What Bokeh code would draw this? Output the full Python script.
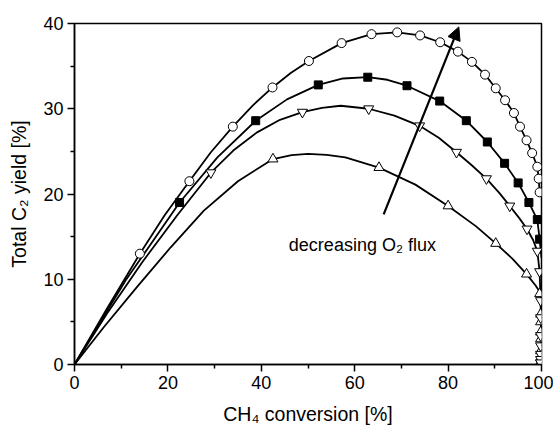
from bokeh.plotting import figure
from bokeh.models import Arrow, NormalHead, FixedTicker, Range1d
from bokeh.core.properties import value
from bokeh.embed import file_html
from bokeh.resources import INLINE

# ---- data ----
# marker points
circ_x = [14.0, 24.6, 33.9, 42.4, 50.2, 57.2, 63.6, 69.1, 74.0, 78.3, 82.1, 85.1, 87.9, 90.2, 92.2, 94.1, 95.4, 96.8, 98.0, 99.1, 99.4, 99.6]
circ_y = [13.0, 21.5, 27.9, 32.5, 35.6, 37.7, 38.75, 38.96, 38.6, 37.8, 36.7, 35.5, 34.0, 32.4, 31.0, 29.5, 27.9, 26.3, 24.8, 23.2, 21.8, 20.2]

sq_x = [22.5, 38.8, 52.2, 62.8, 71.2, 78.2, 83.9, 88.4, 92.1, 95.0, 97.3, 99.1, 99.6]
sq_y = [19.0, 28.6, 32.8, 33.7, 32.7, 30.9, 28.6, 26.1, 23.6, 21.3, 19.0, 17.0, 14.7]

dtri_x = [29.2, 48.8, 63.0, 73.9, 81.8, 88.2, 93.2, 96.9, 99.1, 99.6, 99.8, 99.8, 99.8, 99.8, 99.8, 99.8, 99.8]
dtri_y = [22.5, 29.6, 30.0, 28.0, 24.9, 21.8, 18.6, 15.9, 13.3, 10.9, 7.5, 5.5, 3.4, 2.2, 1.2, 0.6, 0.2]

utri_x = [42.5, 65.2, 80.0, 90.2, 96.8, 99.6, 99.8, 99.8, 99.8, 99.8, 99.8, 99.8, 99.8]
utri_y = [24.1, 23.1, 18.6, 14.2, 10.6, 8.3, 5.9, 5.0, 3.8, 3.0, 1.6, 0.8, 0.3]

# fitted curves
circ_cx = [0, 7.0, 14.0, 19.3, 24.6, 29.2, 33.9, 38.2, 42.4, 46.3, 50.2, 57.2, 63.6, 69.1, 74.0, 78.3, 82.1, 85.1, 87.9, 90.2, 92.2, 94.1, 95.4, 96.8, 98.0, 99.1, 99.4, 99.6]
circ_cy = [0, 6.6, 13.0, 17.5, 21.5, 24.9, 27.9, 30.4, 32.5, 34.2, 35.6, 37.7, 38.75, 38.96, 38.6, 37.8, 36.7, 35.5, 34.0, 32.4, 31.0, 29.5, 27.9, 26.3, 24.8, 23.2, 21.8, 20.2]

sq_cx = [0, 11.0, 22.5, 30.6, 38.8, 45.5, 52.2, 57.5, 62.8, 67.0, 71.2, 78.2, 83.9, 88.4, 92.1, 95.0, 97.3, 99.1, 99.6, 100.0]
sq_cy = [0, 9.9, 19.0, 24.3, 28.6, 31.1, 32.8, 33.55, 33.7, 33.4, 32.7, 30.9, 28.6, 26.1, 23.6, 21.3, 19.0, 17.0, 14.7, 12.5]

dtri_cx = [0, 7.0, 14.5, 22.0, 29.2, 34.0, 39.0, 44.0, 48.8, 53.0, 57.0, 63.0, 68.5, 73.9, 78.0, 81.8, 85.0, 88.2, 91.0, 93.2, 95.2, 96.9, 98.2, 99.1, 99.6, 99.8, 100.0]
dtri_cy = [0, 6.0, 12.0, 17.5, 22.5, 25.1, 27.2, 28.7, 29.6, 30.1, 30.35, 30.0, 29.2, 28.0, 26.6, 24.9, 23.4, 21.8, 20.1, 18.6, 17.2, 15.9, 14.6, 13.3, 10.9, 7.5, 0.0]

utri_cx = [0, 6.3, 13.4, 20.6, 27.7, 35.0, 42.5, 46.5, 50.0, 54.0, 58.0, 65.2, 73.0, 80.0, 86.0, 90.2, 93.8, 96.8, 98.7, 100.0, 100.0]
utri_cy = [0, 4.4, 9.1, 13.75, 18.05, 21.5, 24.1, 24.55, 24.7, 24.6, 24.3, 23.1, 21.1, 18.6, 16.2, 14.2, 12.4, 10.6, 9.3, 8.2, 0.0]

# annotation
arrow_start = (66.2, 17.6)
arrow_end = (82.3, 39.6)
note_text = ["decreasing O\u2082 flux"]
note_x = [45.9]
note_y = [14.0]

x_ticks = [0, 20, 40, 60, 80, 100]
y_ticks = [0, 10, 20, 30, 40]

FONT = "Liberation Sans"

p = figure(width=553, height=422, output_backend="svg", toolbar_location=None,
           x_range=Range1d(0, 100), y_range=Range1d(0, 40),
           frame_width=467, frame_height=341,
           min_border_left=74, min_border_top=23, min_border_right=12, min_border_bottom=58)
p.background_fill_color = "white"
p.border_fill_color = "white"
p.outline_line_color = "black"
p.outline_line_width = 1.5
p.xgrid.visible = False
p.ygrid.visible = False

for ax in (p.xaxis[0], p.yaxis[0]):
    ax.axis_line_width = 1.5
    ax.major_tick_line_width = 1.5
    ax.minor_tick_line_width = 1.5
    ax.major_tick_in = 0
    ax.major_tick_out = 7
    ax.minor_tick_in = 0
    ax.minor_tick_out = 4
    ax.major_label_text_font = FONT
    ax.major_label_text_font_size = "18px"
    ax.major_label_text_color = "black"
    ax.axis_label_text_font = FONT
    ax.axis_label_text_font_size = "19.5px"
    ax.axis_label_text_font_style = "normal"
    ax.axis_label_text_color = "black"

p.xaxis[0].ticker = FixedTicker(ticks=x_ticks, minor_ticks=[10, 30, 50, 70, 90])
p.yaxis[0].ticker = FixedTicker(ticks=y_ticks, minor_ticks=[5, 15, 25, 35])
p.xaxis[0].axis_label = "CH\u2084 conversion [%]"
p.yaxis[0].axis_label = "Total C\u2082 yield [%]"
p.xaxis[0].major_label_standoff = 4
p.yaxis[0].major_label_standoff = 4
p.xaxis[0].axis_label_standoff = 11
p.yaxis[0].axis_label_standoff = 10

LW = 1.8
for cx, cy in ((circ_cx, circ_cy), (sq_cx, sq_cy), (dtri_cx, dtri_cy), (utri_cx, utri_cy)):
    p.line(cx, cy, line_color="black", line_width=LW)

p.scatter(utri_x, utri_y, marker="triangle", size=10, fill_color="white", line_color="black", line_width=1)
p.scatter(dtri_x, dtri_y, marker="inverted_triangle", size=10, fill_color="white", line_color="black", line_width=1)
p.scatter(sq_x, sq_y, marker="square", size=8, fill_color="black", line_color="black", line_width=1)
p.scatter(circ_x, circ_y, marker="circle", size=9, fill_color="white", line_color="black", line_width=1)

p.add_layout(Arrow(end=NormalHead(size=13, fill_color="black", line_color="black"),
                   x_start=arrow_start[0], y_start=arrow_start[1],
                   x_end=arrow_end[0], y_end=arrow_end[1],
                   line_color="black", line_width=2.2))

p.text(x=note_x, y=note_y, text=note_text, text_font=value(FONT), text_font_size="18px",
       text_color="black", text_align="left", text_baseline="alphabetic")

open("out.html", "w").write(file_html(p, INLINE))
